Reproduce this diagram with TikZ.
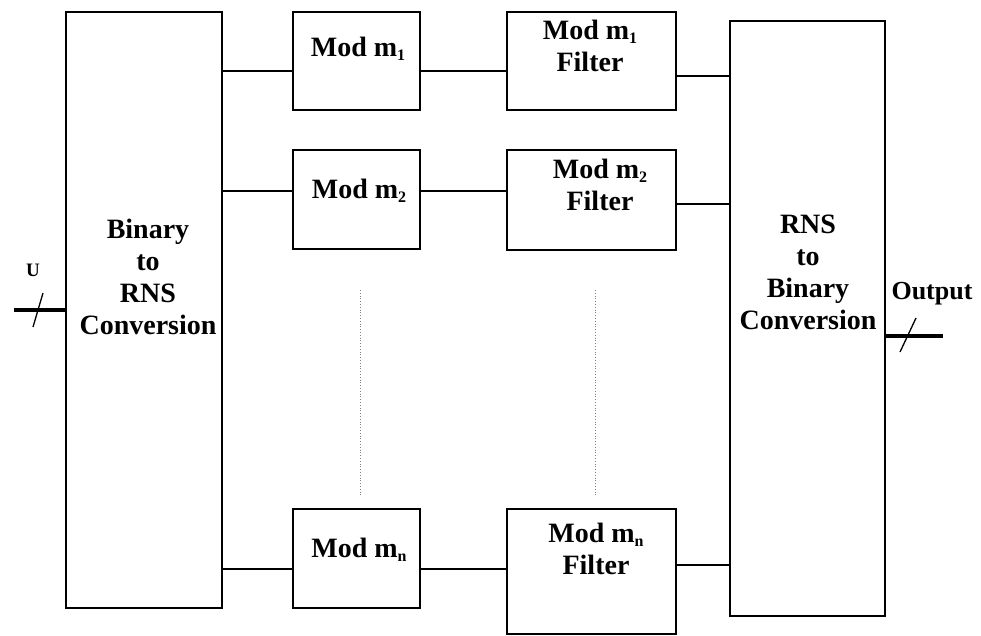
\documentclass[tikz,border=0pt]{standalone}
\usepackage{fontspec}
\setmainfont{Liberation Serif}
\newcommand{\sbs}[1]{\raisebox{-4pt}{\fontsize{16}{16}\selectfont #1}}
\begin{document}
\begin{tikzpicture}[x=1pt,y=-1pt,
  box/.style={draw,line width=1.4pt,inner sep=0pt,outer sep=0pt},
  txt/.style={font=\fontsize{28}{32}\selectfont\bfseries,align=center,inner sep=0pt},
  wire/.style={line width=1.3pt},
  bus/.style={line width=4pt},
  dots/.style={gray,dotted,line width=0.8pt}]
\useasboundingbox (0,0) rectangle (981,636);
% boxes
\node[box,minimum width=156pt,minimum height=596pt] (bin) at (144,310) {};
\node[box,minimum width=155pt,minimum height=595pt] (rns) at (807.5,318.5) {};
\node[box,minimum width=127pt,minimum height=98pt] (m1) at (356.5,61) {};
\node[box,minimum width=169pt,minimum height=98pt] (f1) at (591.5,61) {};
\node[box,minimum width=127pt,minimum height=99pt] (m2) at (356.5,199.5) {};
\node[box,minimum width=169pt,minimum height=100pt] (f2) at (591.5,200) {};
\node[box,minimum width=127pt,minimum height=99pt] (mn) at (356.5,558.5) {};
\node[box,minimum width=169pt,minimum height=125pt] (fn) at (591.5,571.5) {};
% texts
\node[txt] (tbin) at (148,277) {Binary\\to\\RNS\\Conversion};
\node[txt] (trns) at (808,272) {RNS\\to\\Binary\\Conversion};
\node[txt,anchor=base] (tm1) at (358,57) {Mod m\sbs{1}};
\node[txt,anchor=base] (tm2) at (359,199) {Mod m\sbs{2}};
\node[txt,anchor=base] (tmn) at (359,557) {Mod m\sbs{n}};
\node[txt] (tf1) at (590,46) {Mod m\sbs{1}\\Filter};
\node[txt] (tf2) at (600,185) {Mod m\sbs{2}\\Filter};
\node[txt] (tfn) at (596,549) {Mod m\sbs{n}\\Filter};
\node[txt,font=\fontsize{19}{22}\selectfont\bfseries] (tu) at (33,270) {U};
\node[txt,font=\fontsize{26}{30}\selectfont\bfseries] (tout) at (932,294) {Output};
% row coordinates
\coordinate (r1a) at (0,71); \coordinate (r1b) at (0,76);
\coordinate (r2a) at (0,191); \coordinate (r2b) at (0,204);
\coordinate (rna) at (0,569); \coordinate (rnb) at (0,565);
% connectors
\draw[wire] (bin.east |- r1a) -- (m1.west |- r1a);
\draw[wire] (m1.east |- r1a) -- (f1.west |- r1a);
\draw[wire] (f1.east |- r1b) -- (rns.west |- r1b);
\draw[wire] (bin.east |- r2a) -- (m2.west |- r2a);
\draw[wire] (m2.east |- r2a) -- (f2.west |- r2a);
\draw[wire] (f2.east |- r2b) -- (rns.west |- r2b);
\draw[wire] (bin.east |- rna) -- (mn.west |- rna);
\draw[wire] (mn.east |- rna) -- (fn.west |- rna);
\draw[wire] (fn.east |- rnb) -- (rns.west |- rnb);
% dotted continuation
\coordinate (d1t) at (360,290); \coordinate (d1b) at (360,495);
\coordinate (d2t) at (595,290); \coordinate (d2b) at (595,495);
\draw[dots] (d1t) -- (d1b);
\draw[dots] (d2t) -- (d2b);
% input bus
\coordinate (uin) at (14,310);
\draw[bus] (uin) -- (bin.west |- uin);
\coordinate (us1) at (33,327); \coordinate (us2) at (43,293);
\draw[wire] (us1) -- (us2);
% output bus
\coordinate (oend) at (943,336);
\draw[bus] (rns.east |- oend) -- (oend);
\coordinate (os1) at (900,352); \coordinate (os2) at (916,318);
\draw[wire] (os1) -- (os2);
\end{tikzpicture}
\end{document}
